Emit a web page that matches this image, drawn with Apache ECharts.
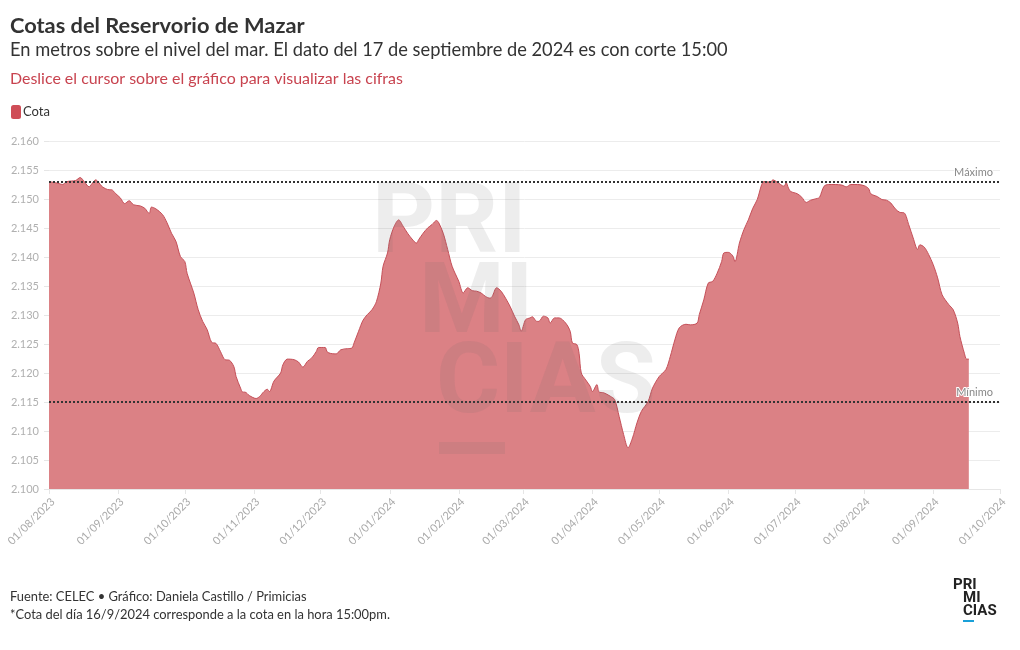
<!DOCTYPE html>
<html>
<head>
<meta charset="utf-8">
<script src="https://cdn.jsdelivr.net/npm/echarts@6/dist/echarts.min.js"></script>
<style>
html,body{margin:0;padding:0;background:#fff;}
#c{width:1020px;height:650px;}
</style>
</head>
<body>
<div id="c"></div>
<script>
// Fechas (días con lectura) y cotas en m s.n.m.
const dates = [
'2023-08-01','2023-08-04','2023-08-06','2023-08-07','2023-08-09','2023-08-11','2023-08-13','2023-08-15','2023-08-17','2023-08-19',
'2023-08-20','2023-08-22','2023-08-23','2023-08-25','2023-08-28','2023-08-29','2023-08-31','2023-09-02','2023-09-04','2023-09-06',
'2023-09-08','2023-09-11','2023-09-13','2023-09-15','2023-09-16','2023-09-18','2023-09-21','2023-09-23','2023-09-25','2023-09-27',
'2023-09-29','2023-10-01','2023-10-02','2023-10-05','2023-10-07','2023-10-09','2023-10-11','2023-10-13','2023-10-15','2023-10-17',
'2023-10-19','2023-10-21','2023-10-23','2023-10-24','2023-10-26','2023-10-27','2023-10-28','2023-10-30','2023-11-02','2023-11-04',
'2023-11-05','2023-11-07','2023-11-08','2023-11-10','2023-11-13','2023-11-14','2023-11-16','2023-11-19','2023-11-21','2023-11-23',
'2023-11-25','2023-11-27','2023-11-29','2023-11-30','2023-12-03','2023-12-04','2023-12-07','2023-12-08','2023-12-10','2023-12-13',
'2023-12-15','2023-12-16','2023-12-18','2023-12-20','2023-12-22','2023-12-24','2023-12-26','2023-12-28','2023-12-29','2023-12-31',
'2024-01-01','2024-01-03','2024-01-05','2024-01-07','2024-01-09','2024-01-11','2024-01-13','2024-01-14','2024-01-16','2024-01-18',
'2024-01-20','2024-01-22','2024-01-23','2024-01-25','2024-01-27','2024-01-29','2024-02-01','2024-02-03','2024-02-05','2024-02-07',
'2024-02-09','2024-02-11','2024-02-13','2024-02-15','2024-02-16','2024-02-18','2024-02-20','2024-02-22','2024-02-24','2024-02-26',
'2024-02-28','2024-02-29','2024-03-02','2024-03-04','2024-03-05','2024-03-07','2024-03-08','2024-03-10','2024-03-12','2024-03-13',
'2024-03-15','2024-03-17','2024-03-20','2024-03-22','2024-03-23','2024-03-25','2024-03-26','2024-03-27','2024-03-29','2024-03-31',
'2024-04-01','2024-04-03','2024-04-04','2024-04-06','2024-04-09','2024-04-11','2024-04-13','2024-04-15','2024-04-17','2024-04-19',
'2024-04-21','2024-04-23','2024-04-26','2024-04-28','2024-05-01','2024-05-04','2024-05-06','2024-05-08','2024-05-10','2024-05-13',
'2024-05-15','2024-05-18','2024-05-19','2024-05-21','2024-05-23','2024-05-25','2024-05-27','2024-05-29','2024-05-30','2024-06-01',
'2024-06-03','2024-06-04','2024-06-06','2024-06-08','2024-06-10','2024-06-12','2024-06-14','2024-06-16','2024-06-17','2024-06-20',
'2024-06-21','2024-06-23','2024-06-26','2024-06-27','2024-06-28','2024-06-29','2024-07-02','2024-07-04','2024-07-06','2024-07-08',
'2024-07-11','2024-07-12','2024-07-14','2024-07-16','2024-07-19','2024-07-22','2024-07-24','2024-07-26','2024-07-29','2024-08-01',
'2024-08-03','2024-08-04','2024-08-07','2024-08-09','2024-08-11','2024-08-13','2024-08-15','2024-08-17','2024-08-19','2024-08-21',
'2024-08-23','2024-08-25','2024-08-26','2024-08-28','2024-08-30','2024-09-01','2024-09-03','2024-09-05','2024-09-08','2024-09-10',
'2024-09-12','2024-09-13','2024-09-15','2024-09-16','2024-09-17'
];
const cota = [
2153.0,2152.8,2152.6,2152.5,2153.0,2153.1,2153.2,2153.7,2152.9,2152.1,
2152.5,2153.3,2153.0,2152.1,2151.6,2151.6,2150.9,2150.2,2149.2,2149.7,
2149.0,2148.8,2148.4,2147.5,2148.6,2148.3,2147.3,2145.9,2144.1,2142.7,
2140.1,2139.2,2137.2,2133.8,2130.9,2128.9,2127.5,2125.3,2125.1,2123.7,
2122.3,2122.2,2121.1,2119.4,2117.4,2116.7,2116.7,2116.1,2115.6,2116.1,
2116.6,2117.2,2116.8,2118.6,2120.0,2121.4,2122.4,2122.3,2121.9,2121.0,
2122.0,2122.6,2123.7,2124.4,2124.4,2123.6,2123.3,2123.3,2124.0,2124.2,
2124.3,2125.2,2127.2,2129.1,2130.1,2130.9,2132.3,2135.5,2138.4,2140.7,
2143.0,2145.3,2146.4,2145.3,2144.1,2143.1,2142.4,2143.0,2144.1,2145.0,
2145.6,2146.3,2145.9,2144.1,2141.3,2138.4,2135.8,2133.8,2134.7,2134.2,
2134.1,2133.8,2133.2,2132.9,2133.2,2134.7,2134.1,2132.9,2131.5,2129.8,
2128.3,2127.2,2129.2,2129.5,2129.7,2128.9,2128.9,2129.8,2129.5,2128.6,
2129.5,2129.5,2128.6,2127.2,2125.2,2124.9,2123.4,2120.0,2118.8,2117.7,
2116.8,2118.0,2116.7,2116.6,2116.0,2115.4,2112.5,2109.4,2107.1,2108.8,
2111.4,2113.4,2115.1,2117.4,2119.4,2120.6,2122.9,2125.7,2127.8,2128.4,
2128.3,2128.6,2130.1,2132.6,2135.5,2135.8,2137.2,2139.2,2140.7,2140.8,
2140.2,2139.2,2142.4,2144.7,2146.4,2148.4,2149.9,2152.5,2153.0,2152.9,
2153.3,2152.9,2152.2,2152.8,2151.9,2151.3,2150.9,2150.3,2149.4,2149.8,
2150.1,2150.3,2152.2,2152.5,2152.5,2152.4,2152.1,2152.5,2152.5,2152.3,
2151.8,2150.9,2150.4,2149.9,2149.8,2149.3,2148.3,2147.7,2147.6,2145.6,
2143.3,2141.3,2142.1,2141.7,2140.4,2138.7,2136.4,2133.5,2131.8,2130.9,
2128.6,2126.3,2123.4,2122.4,2122.4
];
const refLines = [
  { name: 'Máximo', value: 2153 },
  { name: 'Mínimo', value: 2115 }
];
const xStart = '2023-08-01';
const xEnd = '2024-10-01';

const chart = echarts.init(document.getElementById('c'));
const seriesData = dates.map((d, i) => [d, cota[i]]);
const fmt = v => (v / 1000).toFixed(3);

chart.setOption({
  animation: false,
  backgroundColor: '#fff',
  title: [
    { text: 'Cotas del Reservorio de Mazar', left: 5, top: 10,
      textStyle: { fontFamily: 'Lato', fontWeight: 'bold', fontSize: 21.8, color: '#333' } },
    { text: 'En metros sobre el nivel del mar. El dato del 17 de septiembre de 2024 es con corte 15:00', left: 5, top: 36,
      textStyle: { fontFamily: 'Lato', fontWeight: 'normal', fontSize: 18.25, color: '#333' } },
    { text: 'Deslice el cursor sobre el gráfico para visualizar las cifras', left: 5, top: 66,
      textStyle: { fontFamily: 'Lato', fontWeight: 'normal', fontSize: 15.95, color: '#c8434f' } },
    { text: 'Fuente: CELEC • Gráfico: Daniela Castillo / Primicias', left: 5, top: 585,
      textStyle: { fontFamily: 'Lato', fontWeight: 'normal', fontSize: 12.9, color: '#333' } },
    { text: '*Cota del día 16/9/2024 corresponde a la cota en la hora 15:00pm.', left: 5, top: 603,
      textStyle: { fontFamily: 'Lato', fontWeight: 'normal', fontSize: 12.9, color: '#333' } }
  ],
  legend: {
    left: 6, top: 100, itemWidth: 10, itemHeight: 14, itemGap: 8,
    icon: 'roundRect',
    textStyle: { fontFamily: 'Lato', fontSize: 13, color: '#333', padding: [0, 0, 0, -3] },
    data: ['Cota']
  },
  grid: { left: 49, right: 20, top: 141, bottom: 161, containLabel: false },
  xAxis: {
    type: 'time', min: xStart, max: xEnd,
    minInterval: 28 * 86400000, maxInterval: 31 * 86400000,
    axisLine: { show: true, lineStyle: { color: '#e6e6e6' } },
    axisTick: { show: true, length: 5, lineStyle: { color: '#e6e6e6' } },
    splitLine: { show: false },
    axisLabel: {
      rotate: 45, color: '#aaa', fontFamily: 'Lato', fontSize: 11, margin: 7,
      verticalAlign: 'top',
      hideOverlap: false, showMinLabel: true, showMaxLabel: true,
      formatter: v => echarts.time.format(v, '{dd}/{MM}/{yyyy}', false)
    }
  },
  yAxis: {
    type: 'value', min: 2100, max: 2160, interval: 5,
    axisLine: { show: false },
    axisTick: { show: true, length: 5, lineStyle: { color: '#e6e6e6' } },
    splitLine: { show: true, lineStyle: { color: '#ececec', width: 1 } },
    axisLabel: { color: '#b0b0b0', fontFamily: 'Lato', fontSize: 11, margin: 10, formatter: fmt }
  },
  series: [{
    name: 'Cota', type: 'line', data: seriesData,
    showSymbol: false, symbol: 'none', smooth: 0.3,
    color: '#cf4d57',
    lineStyle: { color: '#c55059', width: 1 },
    areaStyle: { color: '#db8185', opacity: 1 },
    markLine: {
      silent: true, symbol: 'none',
      lineStyle: { color: '#333', type: [2, 2], width: 2 },
      label: {
        position: 'insideEndTop', color: '#888', fontFamily: 'Lato', fontSize: 11,
        textBorderColor: '#fff', textBorderWidth: 2, distance: [7, 4],
        formatter: p => p.name
      },
      data: refLines.map(r => ({ name: r.name, yAxis: r.value }))
    }
  }],
  graphic: [
    { type: 'text', left: 372, top: 178, z: 100, silent: true,
      style: { text: 'PRI', font: 'bold 98px Roboto', fill: 'rgba(110,110,110,0.12)' } },
    { type: 'text', left: 419, top: 258, z: 100, silent: true,
      style: { text: 'MI', font: 'bold 98px Roboto', fill: 'rgba(110,110,110,0.12)' } },
    { type: 'text', left: 436, top: 338, z: 100, silent: true,
      style: { text: 'CIAS', font: 'bold 98px Roboto', fill: 'rgba(110,110,110,0.12)' } },
    { type: 'rect', z: 100, silent: true, shape: { x: 439, y: 442, width: 66, height: 12 },
      style: { fill: 'rgba(110,110,110,0.12)' } },
    { type: 'text', left: 953, top: 578, style: { text: 'PRI', font: 'bold 15px Roboto', fill: '#222' } },
    { type: 'text', left: 963, top: 591, style: { text: 'MI', font: 'bold 15px Roboto', fill: '#222' } },
    { type: 'text', left: 963, top: 604, style: { text: 'CIAS', font: 'bold 15px Roboto', fill: '#222' } },
    { type: 'rect', shape: { x: 963, y: 620, width: 11, height: 2 }, style: { fill: '#1aa0d8' } }
  ]
});
</script>
</body>
</html>
